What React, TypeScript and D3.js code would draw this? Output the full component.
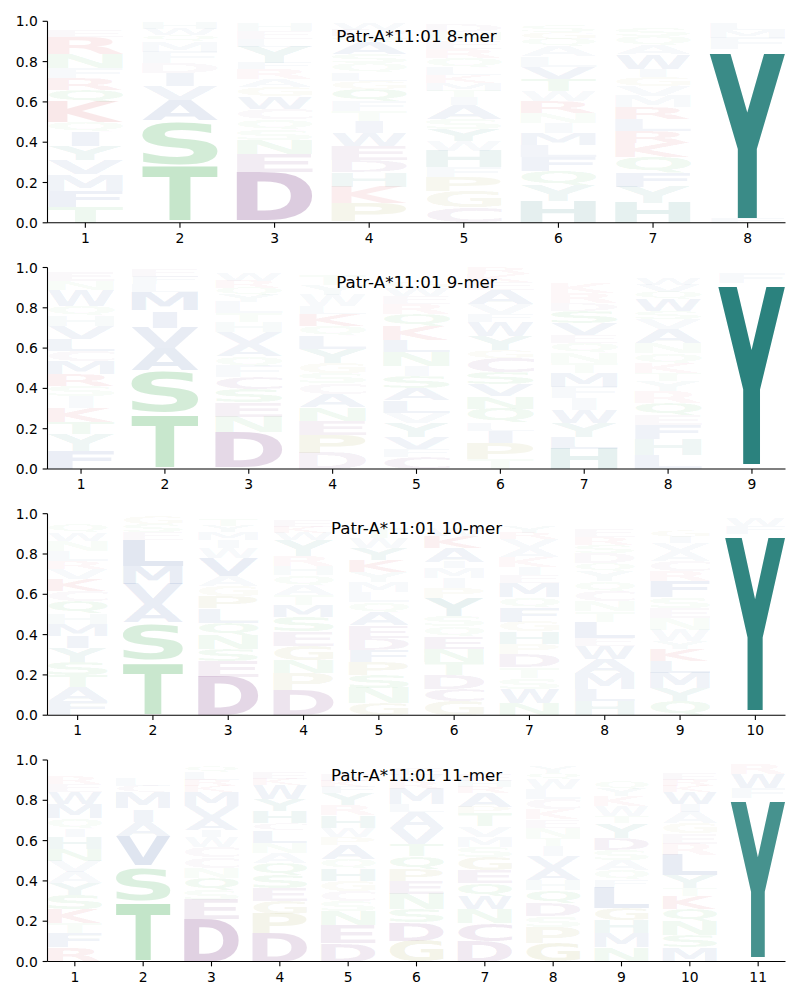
import React, { useMemo } from "react";
import * as d3 from "d3";

type Col = [string, number][];

const titles = [
  "Patr-A*11:01 8-mer",
  "Patr-A*11:01 9-mer",
  "Patr-A*11:01 10-mer",
  "Patr-A*11:01 11-mer",
];

const yTicks = [0, 0.2, 0.4, 0.6, 0.8, 1.0];

const logo8: Col[] = [
  [["T",.08],["F",.08],["M",.08],["V",.07],["Y",.07],["I",.07],["Q",.05],["K",.10],["Q",.06],["R",.06],["F",.05],["N",.07],["R",.08],["E",.03],["S",.02]],
  [["C",.012],["T",.268],["G",.015],["S",.205],["N",.01],["A",.10],["V",.07],["I",.065],["D",.05],["F",.055],["M",.05],["Q",.03],["W",.03],["H",.03]],
  [["Q",.012],["D",.24],["E",.09],["N",.07],["S",.05],["Q",.05],["C",.055],["W",.06],["G",.045],["A",.04],["R",.05],["F",.03],["Y",.08],["L",.04],["E",.04],["H",.04]],
  [["G",.01],["P",.09],["K",.08],["H",.07],["D",.06],["E",.07],["W",.065],["I",.06],["T",.05],["F",.05],["Q",.06],["G",.04],["L",.04],["Q",.045],["S",.045],["A",.06],["Q",.03],["D",.03],["W",.03]],
  [["N",.005],["C",.07],["G",.08],["P",.07],["F",.05],["H",.08],["W",.05],["Y",.06],["S",.05],["A",.07],["I",.04],["T",.03],["M",.04],["K",.04],["L",.035],["Q",.05],["R",.045],["E",.04],["N",.04],["D",.04]],
  [["H",.11],["Y",.075],["Q",.07],["F",.07],["L",.06],["M",.06],["I",.05],["N",.05],["R",.06],["W",.05],["T",.06],["V",.06],["L",.05],["A",.05],["Q",.035],["G",.035],["S",.03]],
  [["H",.10],["Y",.08],["F",.07],["Q",.075],["K",.07],["R",.06],["L",.06],["R",.06],["M",.055],["V",.05],["G",.045],["I",.04],["W",.07],["A",.045],["Q",.045],["S",.04]],
  [["F",.026],["Y",.817],["W",.02],["F",.055],["M",.04],["L",.03]],
];

const logo9: Col[] = [
  [["F",.09],["Y",.085],["T",.06],["K",.07],["I",.055],["S",.05],["R",.06],["M",.065],["C",.05],["L",.06],["V",.065],["H",.05],["Q",.05],["W",.08],["N",.045],["E",.045]],
  [["C",.01],["T",.255],["N",.02],["S",.2],["G",.005],["A",.11],["V",.10],["I",.08],["E",.01],["M",.09],["L",.04],["F",.035],["E",.035]],
  [["Q",.01],["D",.175],["N",.075],["E",.07],["S",.065],["C",.06],["F",.055],["Q",.05],["A",.06],["V",.06],["H",.05],["T",.045],["L",.055],["Y",.035],["Q",.035],["R",.035],["W",.035]],
  [["D",.08],["P",.09],["E",.07],["N",.065],["A",.065],["C",.055],["S",.05],["G",.05],["Y",.07],["L",.065],["Q",.05],["K",.06],["L",.04],["W",.055],["Y",.05],["T",.055]],
  [["C",.06],["F",.04],["V",.06],["Y",.07],["V",.05],["L",.06],["A",.06],["S",.06],["I",.05],["N",.07],["L",.06],["K",.07],["Q",.06],["R",.05],["E",.04],["W",.04],["G",.03]],
  [["T",.05],["P",.08],["I",.06],["L",.04],["Q",.07],["N",.06],["V",.06],["S",.06],["C",.07],["G",.04],["Y",.07],["W",.07],["F",.04],["V",.05],["A",.07],["E",.04],["K",.04],["R",.03]],
  [["H",.10],["L",.06],["Y",.07],["W",.065],["I",.055],["F",.055],["M",.07],["T",.05],["N",.05],["Q",.05],["E",.04],["V",.06],["S",.06],["D",.04],["R",.05],["K",.05]],
  [["L",.07],["H",.08],["F",.07],["E",.05],["Q",.06],["R",.055],["Y",.05],["T",.04],["K",.05],["Q",.05],["N",.05],["A",.07],["V",.05],["S",.04],["W",.06],["Q",.035],["V",.035],["W",.03]],
  [["F",.025],["Y",.88],["W",.02],["F",.05],["L",.02]],
];

const logo10: Col[] = [
  [["F",.07],["A",.07],["T",.06],["S",.065],["Y",.07],["I",.06],["M",.06],["H",.05],["Q",.06],["C",.05],["K",.06],["V",.05],["R",.04],["L",.05],["N",.05],["W",.04],["Q",.04]],
  [["C",.005],["T",.25],["G",.02],["S",.175],["N",.01],["A",.09],["V",.10],["M",.09],["L",.13],["E",.04],["S",.04],["G",.04]],
  [["D",.19],["E",.08],["S",.06],["N",.07],["Q",.06],["L",.07],["P",.06],["G",.05],["A",.05],["V",.09],["W",.05],["I",.04],["M",.04],["Y",.03],["T",.03]],
  [["D",.125],["P",.085],["N",.065],["G",.07],["E",.07],["S",.07],["M",.06],["T",.05],["A",.05],["Q",.05],["H",.045],["R",.05],["Y",.08],["W",.035],["K",.03],["E",.03]],
  [["G",.06],["N",.075],["S",.065],["P",.065],["F",.06],["D",.06],["E",.06],["A",.065],["Q",.05],["L",.05],["M",.05],["Y",.05],["K",.06],["Y",.06],["W",.05],["T",.05]],
  [["G",.07],["C",.06],["D",.07],["T",.065],["N",.065],["E",.06],["Q",.05],["S",.05],["Y",.09],["P",.05],["I",.05],["M",.05],["I",.03],["A",.07],["K",.06],["W",.04]],
  [["N",.06],["W",.07],["S",.055],["T",.055],["D",.065],["P",.05],["H",.06],["G",.05],["F",.07],["Q",.05],["M",.07],["E",.04],["I",.04],["K",.05],["A",.045],["V",.045],["R",.03],["Y",.03]],
  [["H",.07],["L",.06],["M",.08],["A",.07],["W",.065],["E",.04],["L",.08],["T",.05],["N",.05],["C",.05],["Q",.05],["Y",.05],["Q",.04],["D",.05],["S",.04],["R",.04],["E",.04]],
  [["Q",.07],["Y",.065],["M",.075],["L",.06],["K",.06],["Y",.04],["W",.055],["N",.055],["E",.05],["S",.055],["F",.08],["R",.05],["C",.05],["A",.05],["V",.04],["I",.03],["G",.03]],
  [["F",.025],["Y",.855],["W",.02],["F",.04],["W",.04]],
];

const logo11: Col[] = [
  [["R",.07],["F",.07],["T",.05],["K",.07],["S",.07],["Y",.06],["A",.055],["V",.055],["N",.06],["H",.06],["I",.04],["Q",.05],["M",.07],["W",.06],["E",.04],["R",.04]],
  [["C",.005],["T",.28],["G",.02],["S",.16],["N",.015],["V",.14],["A",.07],["I",.06],["E",.01],["M",.08],["C",.03],["L",.04],["Q",.025],["E",.025],["G",.02]],
  [["D",.21],["E",.095],["S",.05],["Q",.06],["N",.05],["C",.055],["C",.05],["W",.05],["I",.03],["A",.06],["V",.06],["M",.07],["K",.03],["R",.03],["L",.04],["Q",.03]],
  [["D",.14],["P",.095],["G",.065],["E",.065],["S",.065],["Q",.06],["A",.05],["N",.05],["L",.06],["C",.035],["H",.06],["Y",.06],["W",.07],["K",.03],["E",.03]],
  [["D",.09],["E",.09],["N",.07],["S",.05],["C",.05],["G",.05],["H",.06],["Q",.05],["A",.07],["P",.04],["W",.045],["H",.06],["R",.05],["Y",.06],["F",.03],["K",.03],["E",.03]],
  [["G",.104],["D",.09],["S",.066],["N",.075],["E",.066],["P",.058],["Q",.066],["T",.058],["V",.08],["A",.08],["L",.04],["M",.075],["R",.04],["W",.03],["E",.03]],
  [["D",.10],["C",.09],["N",.07],["W",.065],["Q",.065],["E",.065],["G",.065],["S",.05],["M",.05],["V",.05],["T",.065],["P",.03],["A",.07],["R",.03],["H",.03],["E",.03]],
  [["G",.09],["P",.08],["S",.055],["D",.065],["Q",.065],["H",.05],["A",.06],["V",.06],["I",.05],["T",.04],["N",.05],["E",.04],["K",.05],["C",.05],["L",.05],["W",.05],["Q",.03],["Y",.03]],
  [["N",.07],["M",.07],["H",.065],["G",.06],["L",.10],["F",.04],["Q",.05],["A",.05],["S",.05],["D",.06],["Y",.07],["T",.035],["W",.05],["K",.05],["Y",.035],["Q",.035]],
  [["M",.07],["S",.06],["N",.07],["Q",.06],["K",.065],["T",.04],["Y",.065],["L",.10],["R",.055],["E",.05],["G",.05],["A",.055],["I",.04],["W",.06],["K",.03],["R",.03],["E",.03]],
  [["F",.022],["Y",.77],["W",.02],["F",.05],["W",.07],["R",.05]],
];

const logos: Col[][] = [logo8, logo9, logo10, logo11];

const letterColors: Record<string, string> = {
  A: "rgb(30,70,150)", V: "rgb(30,70,150)", L: "rgb(30,70,150)", I: "rgb(30,70,150)",
  M: "rgb(30,70,150)", F: "rgb(30,70,150)", W: "rgb(30,70,150)",
  S: "rgb(40,160,60)", T: "rgb(40,160,60)", N: "rgb(40,160,60)", Q: "rgb(40,160,60)",
  G: "rgb(140,140,30)", P: "rgb(140,140,30)",
  D: "rgb(110,40,120)", E: "rgb(110,40,120)", C: "rgb(110,40,120)",
  K: "rgb(200,30,40)", R: "rgb(200,30,40)",
  H: "rgb(14,113,108)", Y: "rgb(14,113,108)",
};

const LEFT = 47.5;
const RIGHT = 785.5;
const PANEL_TOP = [21.3, 267.5, 513.7, 760];
const PANEL_H = 201.5;
const FONT = "'DejaVu Sans', sans-serif";
const TICK = 4.86;

type Metric = { l: number; r: number; a: number; d: number };

function measureGlyphs(): Record<string, Metric> {
  const canvas = document.createElement("canvas");
  const ctx = canvas.getContext("2d")!;
  ctx.font = "bold 100px 'DejaVu Sans'";
  const out: Record<string, Metric> = {};
  for (const ch of Object.keys(letterColors)) {
    const t = ctx.measureText(ch);
    out[ch] = {
      l: t.actualBoundingBoxLeft,
      r: t.actualBoundingBoxRight,
      a: t.actualBoundingBoxAscent,
      d: t.actualBoundingBoxDescent,
    };
  }
  return out;
}

function Panel({ idx, metrics }: { idx: number; metrics: Record<string, Metric> }) {
  const cols = logos[idx];
  const n = cols.length;
  const top = PANEL_TOP[idx];
  const x = d3.scaleLinear().domain([0.6, n + 0.4]).range([LEFT, RIGHT]);
  const y = d3.scaleLinear().domain([0, 1]).range([top + PANEL_H, top]);
  const bottom = top + PANEL_H;
  const eM = metrics["E"];
  const eWidth = eM.l + eM.r;

  const glyphs: React.ReactNode[] = [];
  cols.forEach((col, ci) => {
    const pos = ci + 1;
    let cum = 0;
    const x0 = x(pos - 0.4);
    const x1 = x(pos + 0.4);
    const bw = x1 - x0;
    col.forEach(([ch, h], li) => {
      const yb = y(cum);
      const yt = y(cum + h);
      cum += h;
      const m = metrics[ch];
      const gw = m.l + m.r;
      const gh = m.a + m.d;
      const bh = yb - yt;
      if (bh <= 0.05) return;
      const sx = Math.min(bw / gw, bw / eWidth);
      const sy = bh / gh;
      const shift = (bw - gw * sx) / 2;
      const tx = x0 + shift + m.l * sx;
      const ty = yt + m.a * sy;
      glyphs.push(
        <text
          key={`${ci}-${li}`}
          x={0}
          y={0}
          transform={`translate(${tx},${ty}) scale(${sx},${sy})`}
          fontFamily={FONT}
          fontWeight="bold"
          fontSize={100}
          fill={letterColors[ch]}
          fillOpacity={Math.min(1, h)}
        >
          {ch}
        </text>
      );
    });
  });

  const xTicks = d3.range(1, n + 1);

  return (
    <g>
      {glyphs}
      <text
        x={(LEFT + RIGHT) / 2}
        y={top + 20.5}
        textAnchor="middle"
        fontFamily={FONT}
        fontSize={16.67}
        fill="#000"
      >
        {titles[idx]}
      </text>
      <line x1={LEFT} x2={LEFT} y1={top} y2={bottom} stroke="#000" strokeWidth={1.1} />
      <line x1={LEFT} x2={RIGHT} y1={bottom} y2={bottom} stroke="#000" strokeWidth={1.1} />
      {yTicks.map((t) => (
        <g key={`y${t}`}>
          <line x1={LEFT - TICK} x2={LEFT} y1={y(t)} y2={y(t)} stroke="#000" strokeWidth={1.1} />
          <text
            x={LEFT - TICK - 4.86}
            y={y(t) + 5}
            textAnchor="end"
            fontFamily={FONT}
            fontSize={13.89}
            fill="#000"
          >
            {d3.format(".1f")(t)}
          </text>
        </g>
      ))}
      {xTicks.map((t) => (
        <g key={`x${t}`}>
          <line x1={x(t)} x2={x(t)} y1={bottom} y2={bottom + TICK} stroke="#000" strokeWidth={1.1} />
          <text
            x={x(t)}
            y={bottom + 20}
            textAnchor="middle"
            fontFamily={FONT}
            fontSize={13.89}
            fill="#000"
          >
            {t}
          </text>
        </g>
      ))}
    </g>
  );
}

export default function App() {
  const metrics = useMemo(() => measureGlyphs(), []);
  return (
    <svg
      width={800}
      height={1000}
      style={{ position: "absolute", left: 0, top: 0, background: "#fff" }}
    >
      <rect x={0} y={0} width={800} height={1000} fill="#fff" />
      {logos.map((_, i) => (
        <Panel key={i} idx={i} metrics={metrics} />
      ))}
    </svg>
  );
}
